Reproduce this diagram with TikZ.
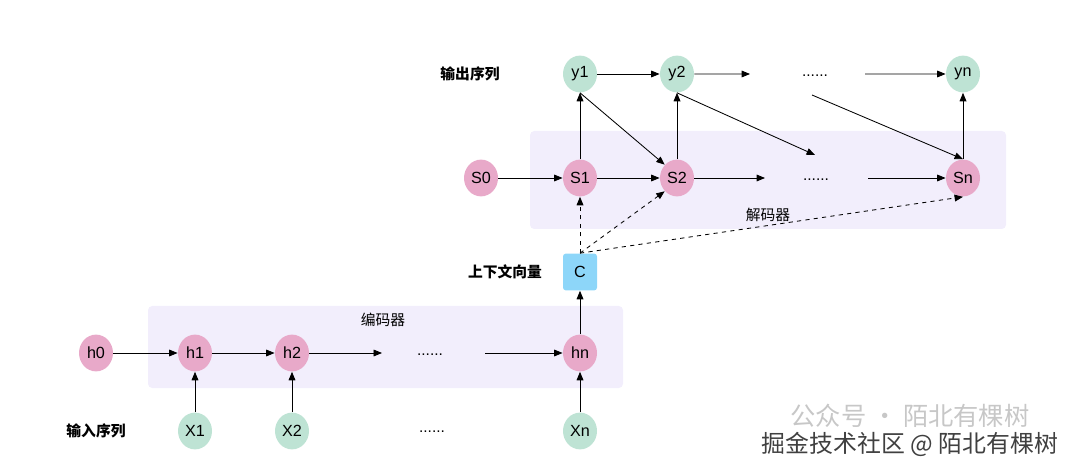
\documentclass[tikz,border=0pt]{standalone}
\usepackage{fontspec}
\setmainfont{Liberation Sans}
\newfontfamily\cjkfont{Noto Sans CJK SC}
\usepackage{xcolor}
\usetikzlibrary{positioning,arrows.meta,shapes.geometric}

\definecolor{hidpink}{HTML}{E8A9C9}
\definecolor{seqgreen}{HTML}{BEE3D4}
\definecolor{ctxblue}{HTML}{8DD6F9}
\definecolor{boxlav}{HTML}{F2EEFC}

\begin{document}
\begin{tikzpicture}[
    ->,>={Triangle[length=6pt,width=4.8pt]},
    line width=0.6pt,
    node distance=2.425cm, on grid,
    cell/.style={ellipse, inner sep=0pt, minimum width=0.85cm, minimum height=0.92cm, font=\fontsize{11.5}{13}\selectfont},
    hid/.style={cell, fill=hidpink},
    seq/.style={cell, fill=seqgreen},
    ctx/.style={rectangle, rounded corners=2pt, fill=ctxblue, minimum width=0.85cm, minimum height=0.92cm, font=\fontsize{11.5}{13}\selectfont},
    dots/.style={font=\fontsize{11}{12}\selectfont},
    tag/.style={font=\cjkfont\bfseries\fontsize{10.5}{12}\selectfont},
    boxname/.style={font=\cjkfont\fontsize{10.5}{12}\selectfont},
    panel/.style={-, fill=boxlav, rounded corners=3pt}
]
    \useasboundingbox (0,0) rectangle (27,-11.875);

    % encoder / decoder panels
    \fill[panel] (3.7,-7.65) rectangle (15.575,-9.7);
    \fill[panel] (13.25,-3.275) rectangle (25.15,-5.725);
    \node[boxname] (enclabel) at (9.575,-8.0) {编码器};
    \node[boxname] (declabel) at (19.2,-5.375) {解码器};

    % encoder
    \node[hid] (h1) at (4.875,-8.825) {h1};
    \node[hid] (h0) [left=2.475cm of h1] {h0};
    \node[hid] (h2) [right=of h1] {h2};
    \node[dots] (hdots) at (10.75,-8.875) {......};
    \node[hid] (hn) at (14.5,-8.825) {hn};
    \node[seq] (x1) [below=1.95cm of h1] {X1};
    \node[seq] (x2) [below=1.95cm of h2] {X2};
    \node[dots] (xdots) at (10.8,-10.8) {......};
    \node[seq] (xn) [below=1.95cm of hn] {Xn};
    \node[tag] (intag) at (2.4,-10.775) {输入序列};

    % context vector
    \node[ctx] (c) at (14.5,-6.8) {C};
    \node[tag] (ctxtag) at (12.625,-6.8) {上下文向量};

    % decoder
    \node[hid] (s1) at (14.5,-4.45) {S1};
    \node[hid] (s0) [left=2.475cm of s1] {S0};
    \node[hid] (s2) [right=of s1] {S2};
    \node[dots] (sdots) at (20.4,-4.5) {......};
    \node[hid] (sn) at (24.075,-4.45) {Sn};
    \node[seq] (y1) [above=2.6cm of s1] {y1};
    \node[seq] (y2) [above=2.6cm of s2] {y2};
    \node[dots] (ydots) at (20.375,-1.9) {......};
    \node[seq] (yn) [above=2.6cm of sn] {yn};
    \node[tag] (outtag) at (11.75,-1.85) {输出序列};

    % free ends
    \coordinate (hgo) at (9.55,-8.825);
    \coordinate (hcome) at (12.125,-8.825);
    \coordinate (sgo) at (19.125,-4.45);
    \coordinate (scome) at (21.7,-4.45);
    \coordinate (ygo) at (18.75,-1.85);
    \coordinate (ycome) at (21.625,-1.85);
    \coordinate (diaggo) at (20.375,-3.875);
    \coordinate (diagcome) at (20.3,-2.375);

    \draw (h0) -- (h1);
    \draw (h1) -- (h2);
    \draw (h2) -- (hgo);
    \draw (hcome) -- (hn);
    \draw (x1) -- (h1);
    \draw (x2) -- (h2);
    \draw (xn) -- (hn);
    \draw (hn) -- (c);

    \draw[dashed] (c.north) -- (s1.south);
    \draw[dashed] (c.north) -- (s2.south west);
    \draw[dashed] (c.north) -- (sn.south);

    \draw (s0) -- (s1);
    \draw (s1) -- (s2);
    \draw (s2) -- (sgo);
    \draw (scome) -- (sn);
    \draw (s1) -- (y1);
    \draw (s2) -- (y2);
    \draw (sn) -- (yn);
    \draw (y1) -- (y2);
    \draw (y2) -- (ygo);
    \draw (ycome) -- (yn);
    \draw (y1.south) -- (s2.north west);
    \draw (y2.south) -- (diaggo);
    \draw (diagcome) -- (sn.north);

    % watermark
    \node[font=\cjkfont\fontsize{18}{20}\selectfont, text=black!22] (wm1) at (22.75,-10.4) {公众号 · 陌北有棵树};
    \node[font=\cjkfont\fontsize{17}{19}\selectfont, text=black!75] (wm2) at (22.75,-11.1) {掘金技术社区 @ 陌北有棵树};
\end{tikzpicture}
\end{document}
